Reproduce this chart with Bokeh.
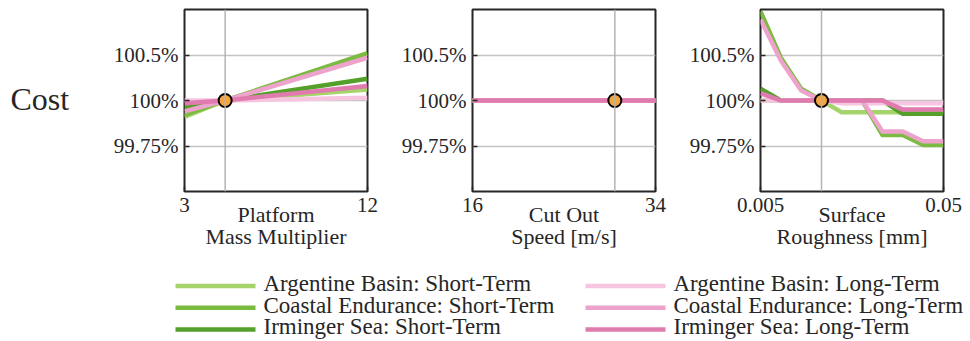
from bokeh.plotting import figure
from bokeh.layouts import column, row
from bokeh.models import Range1d, FixedTicker, Span
from bokeh.embed import file_html
from bokeh.resources import INLINE
from bokeh.core.properties import value

FONT = "Liberation Serif"
TXT = "#262626"

# ---------------- data ----------------
series_names = [
    "Argentine Basin: Short-Term",
    "Coastal Endurance: Short-Term",
    "Irminger Sea: Short-Term",
    "Argentine Basin: Long-Term",
    "Coastal Endurance: Long-Term",
    "Irminger Sea: Long-Term",
]
series_colors = ["#a5d56a", "#7dba42", "#54a02a", "#f6c5e0", "#eea3cd", "#e07bb0"]

# cost in percent of baseline
mass_x = [3, 5, 12]
mass_argentine_st = [99.91, 100.0, 100.12]
mass_coastal_st = [99.92, 100.0, 100.52]
mass_irminger_st = [99.96, 100.0, 100.24]
mass_argentine_lt = [100.0, 100.0, 100.03]
mass_coastal_lt = [99.94, 100.0, 100.47]
mass_irminger_lt = [99.985, 100.0, 100.16]

speed_x = [16, 30, 34]
speed_argentine_st = [100.0, 100.0, 100.0]
speed_coastal_st = [100.0, 100.0, 100.0]
speed_irminger_st = [100.0, 100.0, 100.0]
speed_argentine_lt = [100.0, 100.0, 100.0]
speed_coastal_lt = [100.0, 100.0, 100.0]
speed_irminger_lt = [100.0, 100.0, 100.0]

rough_x = [0.005, 0.01, 0.015, 0.02, 0.025, 0.03, 0.035, 0.04, 0.045, 0.05]
rough_argentine_st = [100.0, 100.0, 100.0, 100.0, 99.935, 99.935, 99.935, 99.935, 99.935, 99.935]
rough_coastal_st = [100.98, 100.47, 100.13, 100.0, 100.0, 100.0, 99.81, 99.81, 99.755, 99.755]
rough_irminger_st = [100.13, 100.0, 100.0, 100.0, 100.0, 100.0, 100.0, 99.927, 99.927, 99.927]
rough_argentine_lt = [100.0, 100.0, 100.0, 100.0, 99.985, 99.985, 99.985, 99.985, 99.985, 99.985]
rough_coastal_lt = [100.89, 100.44, 100.11, 100.0, 100.0, 100.0, 99.83, 99.83, 99.776, 99.776]
rough_irminger_lt = [100.08, 100.0, 100.0, 100.0, 100.0, 100.0, 100.0, 99.95, 99.95, 99.95]

ref_points = [5, 30, 0.02]   # baseline design values
ref_cost = 100.0

ytick_pct = [99.75, 100.0, 100.5]
ytick_labels = ["99.75%", "100%", "100.5%"]
y_limits_pct = [99.5, 101.0]

panel_xlabels = ["Platform\nMass Multiplier", "Cut Out\nSpeed [m/s]", "Surface\nRoughness [mm]"]
panel_xticks = [[3, 12], [16, 34], [0.005, 0.05]]
panel_xtick_labels = [["3", "12"], ["16", "34"], ["0.005", "0.05"]]
row_label = "Cost"


# The y axis is piecewise: +0.5% per tick above 100%, -0.25% per tick below.
def to_axis(v):
    return (v - 100.0) / (0.5 if v >= 100.0 else 0.25)


panels = [
    (mass_x, [mass_argentine_st, mass_coastal_st, mass_irminger_st,
              mass_argentine_lt, mass_coastal_lt, mass_irminger_lt]),
    (speed_x, [speed_argentine_st, speed_coastal_st, speed_irminger_st,
               speed_argentine_lt, speed_coastal_lt, speed_irminger_lt]),
    (rough_x, [rough_argentine_st, rough_coastal_st, rough_irminger_st,
               rough_argentine_lt, rough_coastal_lt, rough_irminger_lt]),
]
borders = [(84, 15), (90, 15), (90, 27)]


def make_panel(i):
    xs, series = panels[i]
    left, right = borders[i]
    p = figure(frame_width=183, frame_height=182,
               x_range=Range1d(xs[0], xs[-1]),
               y_range=Range1d(to_axis(y_limits_pct[0]), to_axis(y_limits_pct[1])),
               output_backend="svg", toolbar_location=None,
               min_border_left=left, min_border_right=right,
               min_border_top=9, min_border_bottom=69)
    p.title.visible = False
    p.outline_line_color = TXT
    p.outline_line_width = 2
    p.xgrid.grid_line_color = None
    p.ygrid.grid_line_color = "#c4c4c4"
    p.ygrid.grid_line_width = 1.5
    p.ygrid.ticker = FixedTicker(ticks=[to_axis(v) for v in ytick_pct])

    p.yaxis.ticker = FixedTicker(ticks=[to_axis(v) for v in ytick_pct])
    p.yaxis.major_label_overrides = {to_axis(v): lab for v, lab in zip(ytick_pct, ytick_labels)}
    p.xaxis.ticker = FixedTicker(ticks=panel_xticks[i])
    p.xaxis.major_label_overrides = {v: lab for v, lab in zip(panel_xticks[i], panel_xtick_labels[i])}
    for ax in (p.xaxis[0], p.yaxis[0]):
        ax.axis_line_color = None
        ax.major_tick_in = 5
        ax.major_tick_out = 0
        ax.major_tick_line_color = TXT
        ax.major_tick_line_width = 1.5
        ax.minor_tick_line_color = None
        ax.major_label_text_font = FONT
        ax.major_label_text_font_size = "21px"
        ax.major_label_text_color = TXT
        ax.major_label_standoff = 6
    p.xaxis.axis_label = panel_xlabels[i]
    p.xaxis.axis_label_text_font = FONT
    p.xaxis.axis_label_text_font_size = "22px"
    p.xaxis.axis_label_text_font_style = "normal"
    p.xaxis.axis_label_text_color = TXT
    p.xaxis.axis_label_text_line_height = 0.9
    p.xaxis.axis_label_standoff = -13

    p.add_layout(Span(location=ref_points[i], dimension="height",
                      line_color="#b4b4b4", line_width=1.5))

    for vals, color in zip(series, series_colors):
        p.line(xs, [to_axis(v) for v in vals], line_color=color, line_width=4.5,
               line_join="round")
    p.scatter([ref_points[i]], [to_axis(ref_cost)], size=13, fill_color="#f4a53c",
              line_color="black", line_width=2)
    return p


figs = [make_panel(i) for i in range(3)]

# row label "Cost" in its own narrow strip
lab = figure(frame_width=100, frame_height=260, x_range=Range1d(0, 100), y_range=Range1d(260, 0),
             output_backend="svg", toolbar_location=None, min_border=0,
             x_axis_location=None, y_axis_location=None)
lab.title.visible = False
lab.grid.visible = False
lab.outline_line_color = None
lab.text(x=[10], y=[89], text=[row_label], text_font=value(FONT), text_font_size="32px",
         text_color=TXT, text_baseline="middle", text_align="left")

# legend
leg = figure(frame_width=970, frame_height=81, x_range=Range1d(0, 970), y_range=Range1d(81, 0),
             output_backend="svg", toolbar_location=None, min_border=0,
             x_axis_location=None, y_axis_location=None)
leg.title.visible = False
leg.grid.visible = False
leg.outline_line_color = None
for k, (name, color) in enumerate(zip(series_names, series_colors)):
    c, r = divmod(k, 3)
    x0 = 175 + c * 410
    yl = 25.5 + 21.7 * r
    leg.segment(x0=[x0], y0=[yl], x1=[x0 + 80], y1=[yl], line_color=color, line_width=4.5)
    leg.text(x=[x0 + 88], y=[yl - 2.5], text=[name], text_font=value(FONT), text_font_size="23px",
             text_color=TXT, text_baseline="alphabetic", text_align="left")

layout = column(row(lab, *figs, spacing=0), leg, spacing=0)

with open("out.html", "w") as f:
    f.write(file_html(layout, INLINE))
